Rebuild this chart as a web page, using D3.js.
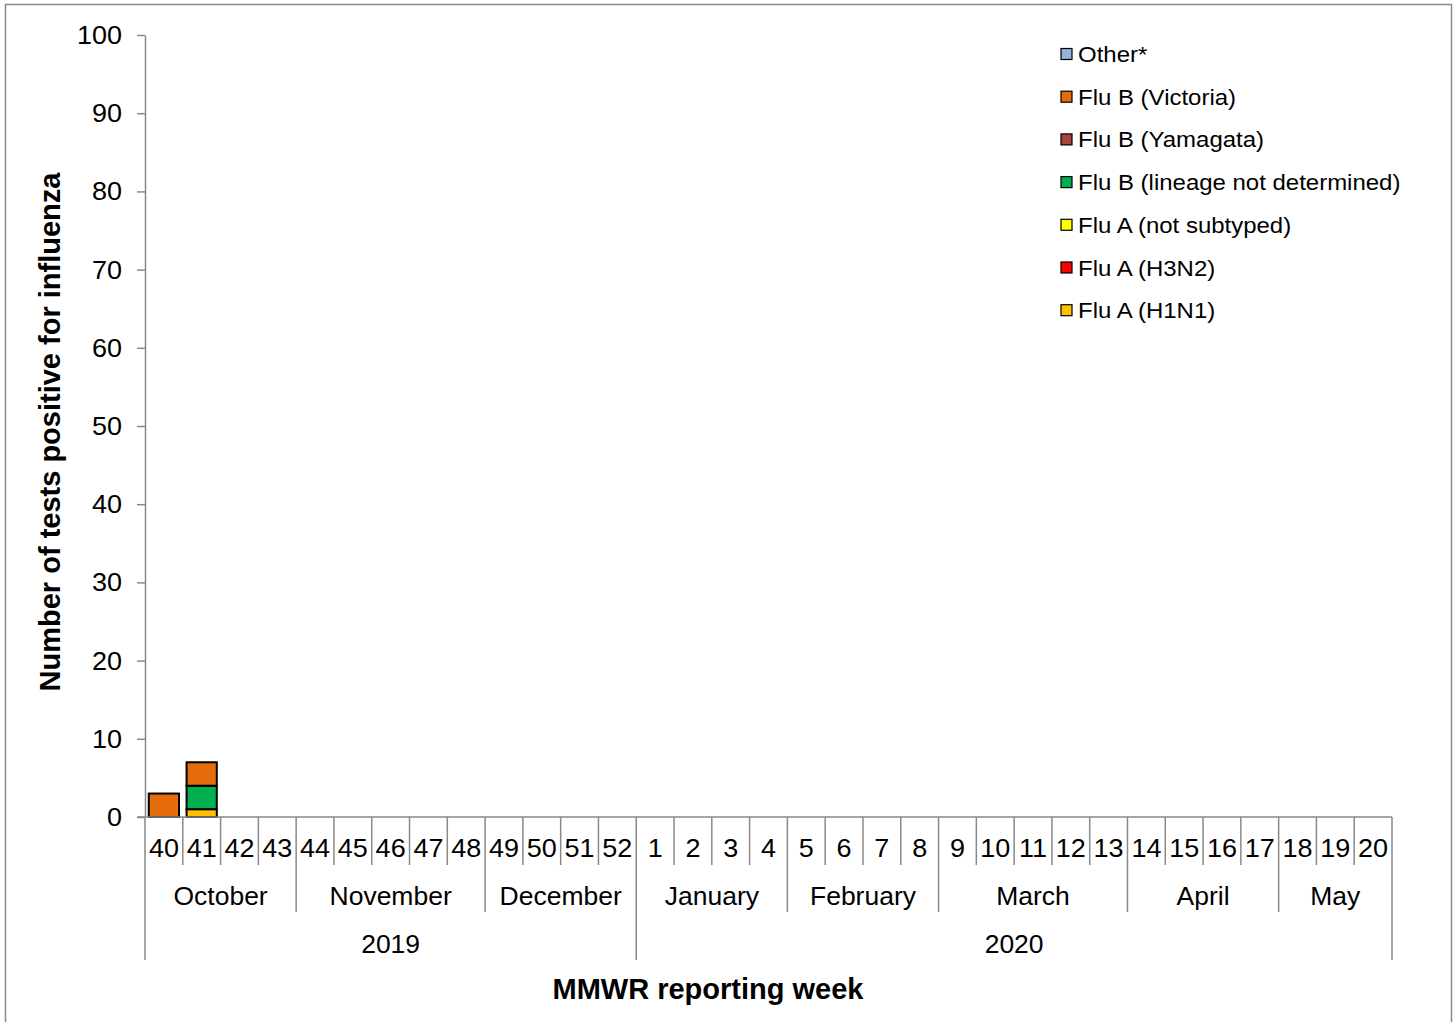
<!DOCTYPE html>
<html><head><meta charset="utf-8">
<script src="https://cdn.jsdelivr.net/npm/d3@7"></script>
<style>body{margin:0;background:#fff}svg{display:block}text{font-family:"Liberation Sans",Arial,sans-serif;fill:#000}</style>
</head><body>
<svg id="c" width="1455" height="1022"></svg>
<script>
const weeks = ["40","41","42","43","44","45","46","47","48","49","50","51","52","1","2","3","4","5","6","7","8","9","10","11","12","13","14","15","16","17","18","19","20"];
const months = [["October",4],["November",5],["December",4],["January",4],["February",4],["March",5],["April",4],["May",3]];
const years = [["2019",13],["2020",20]];
const seriesNames = ["Flu A (H1N1)","Flu A (H3N2)","Flu A (not subtyped)","Flu B (lineage not determined)","Flu B (Yamagata)","Flu B (Victoria)","Other*"];
const seriesColors = ["#FFC000","#FF0000","#FFFF00","#00B050","#A5443E","#E46C0A","#95B3D7"];
const fluAH1N1    = [0,1,0,0,0,0,0,0,0,0,0,0,0,0,0,0,0,0,0,0,0,0,0,0,0,0,0,0,0,0,0,0,0];
const fluAH3N2    = [0,0,0,0,0,0,0,0,0,0,0,0,0,0,0,0,0,0,0,0,0,0,0,0,0,0,0,0,0,0,0,0,0];
const fluANotSub  = [0,0,0,0,0,0,0,0,0,0,0,0,0,0,0,0,0,0,0,0,0,0,0,0,0,0,0,0,0,0,0,0,0];
const fluBLineND  = [0,3,0,0,0,0,0,0,0,0,0,0,0,0,0,0,0,0,0,0,0,0,0,0,0,0,0,0,0,0,0,0,0];
const fluBYama    = [0,0,0,0,0,0,0,0,0,0,0,0,0,0,0,0,0,0,0,0,0,0,0,0,0,0,0,0,0,0,0,0,0];
const fluBVic     = [3,3,0,0,0,0,0,0,0,0,0,0,0,0,0,0,0,0,0,0,0,0,0,0,0,0,0,0,0,0,0,0,0];
const other       = [0,0,0,0,0,0,0,0,0,0,0,0,0,0,0,0,0,0,0,0,0,0,0,0,0,0,0,0,0,0,0,0,0];
const yTicks = [0,10,20,30,40,50,60,70,80,90,100];

const seriesVals = [fluAH1N1,fluAH3N2,fluANotSub,fluBLineND,fluBYama,fluBVic,other];
const table = weeks.map((w,i)=>{const o={week:i}; seriesNames.forEach((s,j)=>o[s]=seriesVals[j][i]); return o;});

const svg = d3.select("#c");
const axisCol = "#898989";
svg.append("rect").attr("x",5.5).attr("y",4.5).attr("width",1446).attr("height",1030).attr("fill","none").attr("stroke","#898989").attr("stroke-width",1.5);

const x0=145, x1=1392, yTop=35, yBot=817;
const x = d3.scaleBand().domain(d3.range(weeks.length)).range([x0,x1]).paddingInner(0.2).paddingOuter(0.1);
const y = d3.scaleLinear().domain([0,100]).range([yBot,yTop]);
const bw = (x1-x0)/weeks.length;

function stext(g, tx, ty, str, fs, sx, anchor, weight){
  return g.append("text").attr("transform",`translate(${tx},${ty}) scale(${sx},1)`)
    .attr("text-anchor",anchor||"middle").attr("font-size",fs).attr("font-weight",weight||"normal").text(str);
}

const ya = svg.append("g").attr("transform",`translate(${x0},0)`).call(d3.axisLeft(y).tickValues(yTicks).tickSize(8).tickFormat("").tickSizeOuter(0));
ya.select(".domain").attr("stroke",axisCol).attr("stroke-width",1.5);
ya.selectAll(".tick line").attr("stroke",axisCol).attr("stroke-width",1.5);
ya.selectAll(".tick text").remove();
const yl = svg.append("g");
yTicks.forEach(t=>stext(yl, 122, y(t)+9, String(t), 25, 1.08, "end"));

const stack = d3.stack().keys(seriesNames)(table);
svg.append("g").selectAll("g").data(stack).join("g").attr("fill",(d,i)=>seriesColors[i])
  .selectAll("rect").data(d=>d.filter(e=>e[1]-e[0]>0)).join("rect")
  .attr("x",d=>x(d.data.week)).attr("width",x.bandwidth())
  .attr("y",d=>y(d[1])).attr("height",d=>y(d[0])-y(d[1]))
  .attr("stroke","#000").attr("stroke-width",2);

svg.append("line").attr("x1",x0-8).attr("x2",x1).attr("y1",yBot).attr("y2",yBot).attr("stroke",axisCol).attr("stroke-width",1.5);

const sep = svg.append("g").attr("stroke",axisCol).attr("stroke-width",1.5);
const lbl = svg.append("g");
for(let i=0;i<=weeks.length;i++){
  sep.append("line").attr("x1",x0+i*bw).attr("x2",x0+i*bw).attr("y1",yBot).attr("y2",865);
}
weeks.forEach((w,i)=>stext(lbl, x0+(i+0.5)*bw, 857, w, 25, 1.08));
let acc=0;
months.forEach(([m,n])=>{
  sep.append("line").attr("x1",x0+acc*bw).attr("x2",x0+acc*bw).attr("y1",865).attr("y2",912);
  stext(lbl, x0+(acc+n/2)*bw, 905, m, 25, 1.06);
  acc+=n;
});
sep.append("line").attr("x1",x0+acc*bw).attr("x2",x0+acc*bw).attr("y1",865).attr("y2",912);
acc=0;
years.forEach(([yr,n])=>{
  sep.append("line").attr("x1",x0+acc*bw).attr("x2",x0+acc*bw).attr("y1",912).attr("y2",960);
  stext(lbl, x0+(acc+n/2)*bw, 953, yr, 25, 1.06);
  acc+=n;
});
sep.append("line").attr("x1",x0+acc*bw).attr("x2",x0+acc*bw).attr("y1",912).attr("y2",960);

svg.append("text").attr("x",708).attr("y",999).attr("text-anchor","middle").attr("font-size",29).attr("font-weight","bold").text("MMWR reporting week");
svg.append("text").attr("transform","translate(60,432) rotate(-90)").attr("text-anchor","middle").attr("font-size",29).attr("font-weight","bold").text("Number of tests positive for influenza");

const lg = svg.append("g");
const legOrder = seriesNames.map((s,i)=>i).reverse();
legOrder.forEach((si,k)=>{
  const cy = 54 + k*42.7;
  lg.append("rect").attr("x",1061).attr("y",cy-5.5).attr("width",11).attr("height",11).attr("fill",seriesColors[si]).attr("stroke","#000").attr("stroke-width",1.2);
  stext(lg, 1078, cy+8, seriesNames[si], 22, 1.09, "start");
});
</script>
</body></html>
